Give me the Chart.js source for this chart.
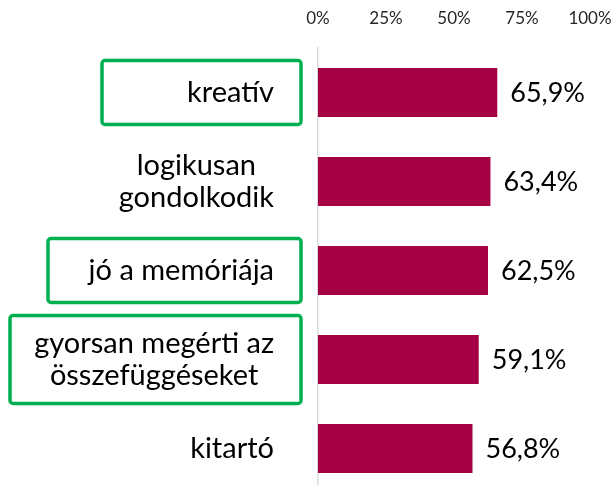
<!DOCTYPE html>
<html lang="hu">
<head>
  <meta charset="UTF-8" />
  <title>Tulajdonságok</title>
  <script src="https://cdn.jsdelivr.net/npm/chart.js"></script>
  <style>
    body {
      margin: 0;
      background: #ffffff;
      overflow: hidden;
    }
    .wrap {
      position: relative;
      width: 613px;
      height: 493px;
    }
  </style>
</head>
<body>
  <div class="wrap">
    <canvas id="chart"></canvas>
  </div>

  <script>
    // Adatok
    const labels = [
      ['kreatív'],
      ['logikusan', 'gondolkodik'],
      ['jó a memóriája'],
      ['gyorsan megérti az', 'összefüggéseket'],
      ['kitartó']
    ];
    const values = [65.9, 63.4, 62.5, 59.1, 56.8];
    const xTicks = [0, 25, 50, 75, 100];

    // zöld keret: melyik sor, milyen széles a doboz
    const highlighted = [0, 2, 3];
    const boxWidths = [199, 253, 291];

    const FONT = 'Lato, "Open Sans", sans-serif';
    const BAR = '#a50044';
    const GREEN = '#00b050';

    const fmt = v => v.toFixed(1).replace('.', ',') + '%';

    // kategória feliratok (soronként középre, blokk jobbra zárva)
    const catLabels = {
      id: 'catLabels',
      afterDraw(chart) {
        const ctx = chart.ctx;
        const y = chart.scales.y;
        const right = chart.chartArea.left - 44;
        ctx.save();
        ctx.font = '29px ' + FONT;
        ctx.fillStyle = '#000';
        ctx.textAlign = 'center';
        ctx.textBaseline = 'middle';
        labels.forEach((lines, i) => {
          const cy = y.getPixelForValue(i);
          const w = Math.max(...lines.map(l => ctx.measureText(l).width));
          const cx = right - w / 2;
          lines.forEach((l, k) => {
            ctx.fillText(l, cx, cy + (k - (lines.length - 1) / 2) * 32);
          });
        });

        // zöld keretek
        ctx.strokeStyle = GREEN;
        ctx.lineWidth = 3.5;
        highlighted.forEach((i, n) => {
          const cy = y.getPixelForValue(i);
          const half = labels[i].length > 1 ? 44 : 32;
          const x1 = chart.chartArea.left - 17;
          ctx.beginPath();
          ctx.roundRect(x1 - boxWidths[n], cy - half, boxWidths[n], half * 2, 3);
          ctx.stroke();
        });
        ctx.restore();
      }
    };

    // értékfeliratok a sávok végén
    const valueLabels = {
      id: 'valueLabels',
      afterDatasetsDraw(chart) {
        const ctx = chart.ctx;
        const meta = chart.getDatasetMeta(0);
        ctx.save();
        ctx.font = '27px ' + FONT;
        ctx.fillStyle = '#000';
        ctx.textAlign = 'left';
        ctx.textBaseline = 'middle';
        meta.data.forEach((bar, i) => {
          ctx.fillText(fmt(values[i]), bar.x + 13, bar.y + 1);
        });
        ctx.restore();
      }
    };

    new Chart(document.getElementById('chart'), {
      type: 'bar',
      data: {
        labels: labels,
        datasets: [{
          data: values,
          backgroundColor: BAR,
          borderWidth: 0,
          categoryPercentage: 1,
          barPercentage: 0.55
        }]
      },
      options: {
        indexAxis: 'y',
        responsive: true,
        maintainAspectRatio: false,
        animation: false,
        layout: { padding: { left: 0, right: 23, top: 0, bottom: 0 } },
        plugins: {
          legend: { display: false },
          tooltip: { enabled: false }
        },
        scales: {
          x: {
            position: 'top',
            min: 0,
            max: 100,
            afterBuildTicks: s => { s.ticks = xTicks.map(v => ({ value: v })); },
            afterFit: s => {
              s.height = 48;
              s.paddingLeft = 0;
              s.paddingRight = 0;
            },
            grid: { display: false, drawTicks: false },
            border: { display: false },
            ticks: {
              padding: 19,
              color: '#262626',
              font: { family: FONT, size: 17 },
              callback: v => v + '%'
            }
          },
          y: {
            afterFit: s => { s.width = 318; },
            grid: { display: false, drawTicks: false },
            border: { display: true, color: '#d9d9d9', width: 1.5 },
            ticks: { display: false }
          }
        }
      },
      plugins: [catLabels, valueLabels]
    });
  </script>
</body>
</html>
